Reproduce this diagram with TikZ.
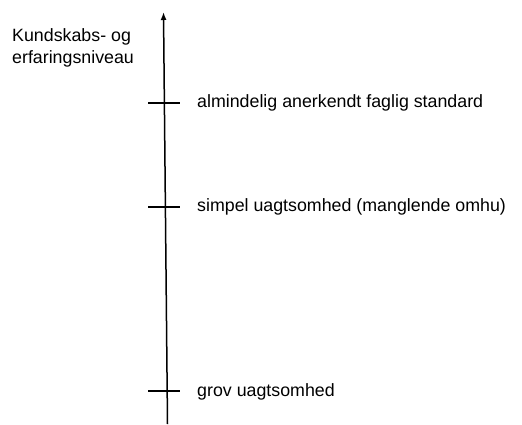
\documentclass[tikz,border=0pt]{standalone}
\usepackage{fontspec}
\setmainfont{Liberation Sans}
\usetikzlibrary{arrows, arrows.meta, positioning}
\tikzstyle{axis} = [line width=1.5pt,->,>={Latex[length=8pt,width=6pt]}]
\tikzstyle{tick} = [line width=1.3pt]
\tikzstyle{level} = [anchor=base west, inner sep=0pt, font=\fontsize{17.8}{21.6}\selectfont]
\tikzstyle{title} = [anchor=base west, inner sep=0pt, align=left, font=\fontsize{17.8}{21.6}\selectfont]

\begin{document}
\begin{tikzpicture}[x=1pt, y=-1pt]
    \useasboundingbox (0,0) rectangle (522,424);
    \coordinate (bund) at (167.5,424);
    \coordinate (top) at (163.5,12);
    \draw [axis] (bund) -- (top);
    \node (titel) [title] at (12,63.3) {Kundskabs- og\\erfaringsniveau};
    % niveauer
    \coordinate (t1a) at (148,103);
    \coordinate (t1b) at (180,103);
    \coordinate (t2a) at (148,207);
    \coordinate (t2b) at (180,207);
    \coordinate (t3a) at (148,391);
    \coordinate (t3b) at (180,391);
    \draw [tick] (t1a) -- (t1b);
    \draw [tick] (t2a) -- (t2b);
    \draw [tick] (t3a) -- (t3b);
    \node (n1) [level] at (197,107.5) {almindelig anerkendt faglig standard};
    \node (n2) [level] at (197,211.5) {simpel uagtsomhed (manglende omhu)};
    \node (n3) [level] at (197,396.5) {grov uagtsomhed};
\end{tikzpicture}
\end{document}
